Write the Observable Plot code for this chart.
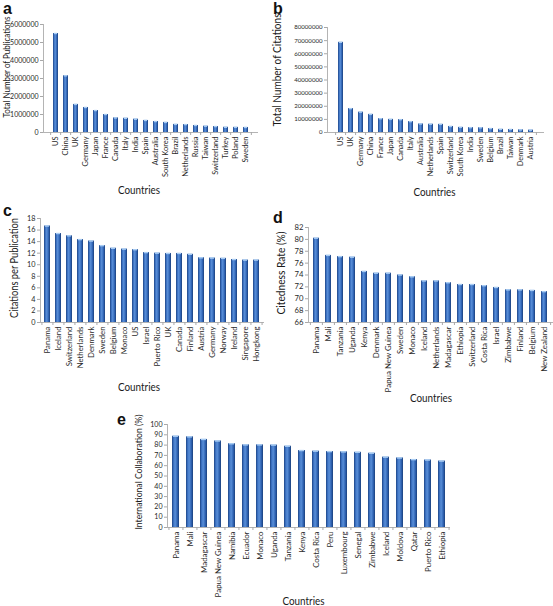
<!DOCTYPE html>
<html><head><meta charset="utf-8">
<script src="https://cdn.jsdelivr.net/npm/d3@7"></script>
<script src="https://cdn.jsdelivr.net/npm/@observablehq/plot@0.6"></script>
<style>
html,body{margin:0;padding:0;overflow:hidden;background:#fff;}
#fig{position:relative;width:553px;height:606px;}
#fig svg.panel{position:absolute;}
#overlay{position:absolute;left:0;top:0;pointer-events:none;}
</style></head><body><div id="fig"></div>
<script>
// ---------- data ----------
const aCountries = ["US","China","UK","Germany","Japan","France","Canada","Italy","India","Spain","Australia","South Korea","Brazil","Netherlands","Russia","Taiwan","Switzerland","Turkey","Poland","Sweden"];
const aValues = [5500000,3150000,1560000,1390000,1220000,1000000,810000,790000,740000,670000,610000,560000,450000,440000,390000,350000,330000,290000,285000,280000];
const aTicks = [0,1000000,2000000,3000000,4000000,5000000,6000000];

const bCountries = ["US","UK","Germany","China","France","Japan","Canada","Italy","Australia","Netherlands","Spain","Switzerland","South Korea","India","Sweden","Belgium","Brazil","Taiwan","Denmark","Austria"];
const bValues = [68700000,18200000,15500000,13800000,10500000,10000000,9800000,8300000,6500000,6300000,6200000,4600000,3900000,3700000,3600000,3000000,2400000,2300000,2000000,1800000];
const bTicks = [0,10000000,20000000,30000000,40000000,50000000,60000000,70000000,80000000];

const cCountries = ["Panama","Iceland","Switzerland","Netherlands","Denmark","Sweden","Belgium","Monaco","US","Israel","Puerto Rico","UK","Canada","Finland","Austria","Germany","Norway","Ireland","Singapore","Hongkong"];
const cValues = [16.7,15.4,15.0,14.35,14.1,13.3,12.85,12.7,12.6,12.1,12.0,11.95,11.95,11.8,11.2,11.15,11.1,10.9,10.8,10.8];
const cTicks = [0,2,4,6,8,10,12,14,16,18];

const dCountries = ["Panama","Mali","Tanzania","Uganda","Kenya","Denmark","Papua New Guinea","Sweden","Monaco","Iceland","Netherlands","Madagascar","Ethiopia","Switzerland","Costa Rica","Israel","Zimbabwe","Finland","Belgium","New Zealand"];
const dValues = [80.2,77.3,77.1,77.0,74.6,74.3,74.3,74.0,73.7,73.0,73.0,72.7,72.4,72.4,72.2,71.9,71.5,71.5,71.4,71.2];
const dTicks = [66,68,70,72,74,76,78,80,82];

const eCountries = ["Panama","Mali","Madagascar","Papua New Guinea","Namibia","Ecuador","Monaco","Uganda","Tanzania","Kenya","Costa Rica","Peru","Luxembourg","Senegal","Zimbabwe","Iceland","Moldova","Qatar","Puerto Rico","Ethiopia"];
const eValues = [88.6,88.0,85.5,84.0,81.3,80.2,80.2,80.0,78.9,74.7,74.1,73.7,73.4,73.0,72.1,68.3,67.5,65.9,65.5,64.5];
const eTicks = [0,10,20,30,40,50,60,70,80,90,100];

const yTitles = ["Total Number of Publications","Total Number of Citations","Citations per Publication","Citedness Rate (%)","International Collaboration (%)"];
const xTitle = "Countries";
const letters = ["a","b","c","d","e"];

// ---------- layout ----------
const FONT = "Lato, 'Open Sans', sans-serif";
const layout = [
  {L:43, R:257, T:24.3, B:132.3, xf:7.5, yf:7.0, lx:3, ly:13.6, yt:[7,67,101,9.2], xt:[139,193.5]},
  {L:327, R:543, T:26.7, B:132, xf:7.4, yf:6.1, lx:273, ly:13.6, yt:[277.5,70,113,11.2], xt:[434.5,195.8]},
  {L:40, R:263, T:217.7, B:321.3, xf:7.8, yf:7.3, lx:3, ly:215.7, yt:[14,268,100,10.6], xt:[139,391.2]},
  {L:308, R:552, T:227, B:321.7, xf:7.9, yf:7.7, lx:273, ly:223, yt:[281,273,83,11.4], xt:[431,401.5]},
  {L:167, R:449.3, T:424, B:526.7, xf:7.9, yf:7.1, lx:117, ly:425, yt:[138,472,115,10.0], xt:[303.5,605.0]}
];
const series = [
  [aCountries,aValues,aTicks],
  [bCountries,bValues,bTicks],
  [cCountries,cValues,cTicks],
  [dCountries,dValues,dTicks],
  [eCountries,eValues,eTicks]
];

const fig = document.getElementById("fig");

series.forEach(([cats, vals, ticks], k) => {
  const p = layout[k];
  const data = cats.map((c, i) => ({c, v: vals[i]}));
  const ml = 40, mr = p.R > 548 ? 1 : 3, mt = 8, mb = 58;
  const width = Math.round(p.R - p.L) + ml + mr;
  const height = Math.round(p.B - p.T) + mt + mb;
  const step = (p.R - p.L) / cats.length;
  const gid = "bargrad-" + letters[k];
  const base = ticks[0];
  const chart = Plot.plot({
    width, height,
    marginLeft: ml, marginRight: mr, marginTop: mt, marginBottom: mb,
    style: {fontFamily: FONT, background: "transparent", overflow: "visible"},
    x: {type: "band", domain: cats, paddingInner: 0.5, paddingOuter: 0.25, align: 0.5},
    y: {domain: [ticks[0], ticks[ticks.length - 1]]},
    marks: [
      () => {
        const defs = d3.create("svg:defs");
        const g = defs.append("linearGradient").attr("id", gid)
          .attr("x1", "0").attr("x2", "1").attr("y1", "0").attr("y2", "0");
        [[0,"#1d4382"],[0.22,"#3b70c0"],[0.45,"#5a8fd8"],[0.75,"#3064b4"],[1,"#1b3f7a"]]
          .forEach(([o, c]) => g.append("stop").attr("offset", o).attr("stop-color", c));
        return defs.node();
      },
      Plot.frame({anchor: "left", stroke: "#b4b4b4"}),
      Plot.frame({anchor: "bottom", stroke: "#b4b4b4"}),
      Plot.barY(data, {x: "c", y1: base, y2: "v", fill: `url(#${gid})`}),
      Plot.tickY(data, {x: "c", y: "v", stroke: "#a9cdf4", strokeWidth: 1.4, insetLeft: 0.9, insetRight: 0.9}),
      Plot.axisY({ticks, tickSize: 3, tickPadding: 2, tickFormat: d3.format("d"),
        fontSize: p.yf, stroke: "#a8a8a8", fill: "#2a2a2a", label: null}),
      Plot.axisX({ticks: cats, tickSize: 0, tickPadding: 4, tickRotate: -90,
        fontSize: p.xf, fill: "#2a2a2a", label: null}),
      Plot.axisX({ticks: cats, tickSize: 3, tickFormat: () => "", dx: -step / 2, stroke: "#a8a8a8", label: null}),
      Plot.axisX({ticks: [cats[cats.length - 1]], tickSize: 3, tickFormat: () => "", dx: step / 2, stroke: "#a8a8a8", label: null})
    ]
  });
  chart.classList.add("panel");
  chart.style.left = (p.L - ml) + "px";
  chart.style.top = (p.T - mt) + "px";
  fig.appendChild(chart);
});

// ---------- text overlay (panel letters, axis titles) ----------
const ov = d3.select(fig).append("svg").attr("id", "overlay")
  .attr("width", 553).attr("height", 606);
layout.forEach((p, k) => {
  ov.append("text").attr("x", p.lx).attr("y", p.ly)
    .attr("font-family", "'Liberation Sans', Arial, sans-serif").attr("font-weight", "bold")
    .attr("font-size", 16).attr("fill", "#111").text(letters[k]);
  const [cx, cy, len, fs] = p.yt;
  ov.append("text").attr("transform", `translate(${cx},${cy}) rotate(-90)`)
    .attr("text-anchor", "middle").attr("dy", "0.35em")
    .attr("font-family", FONT).attr("font-size", fs).attr("fill", "#1a1a1a")
    .attr("textLength", len).attr("lengthAdjust", "spacingAndGlyphs")
    .text(yTitles[k]);
  ov.append("text").attr("x", p.xt[0]).attr("y", p.xt[1])
    .attr("text-anchor", "middle")
    .attr("font-family", FONT).attr("font-size", 11).attr("fill", "#1a1a1a")
    .attr("textLength", 42).attr("lengthAdjust", "spacingAndGlyphs")
    .text(xTitle);
});
</script>
</body></html>
